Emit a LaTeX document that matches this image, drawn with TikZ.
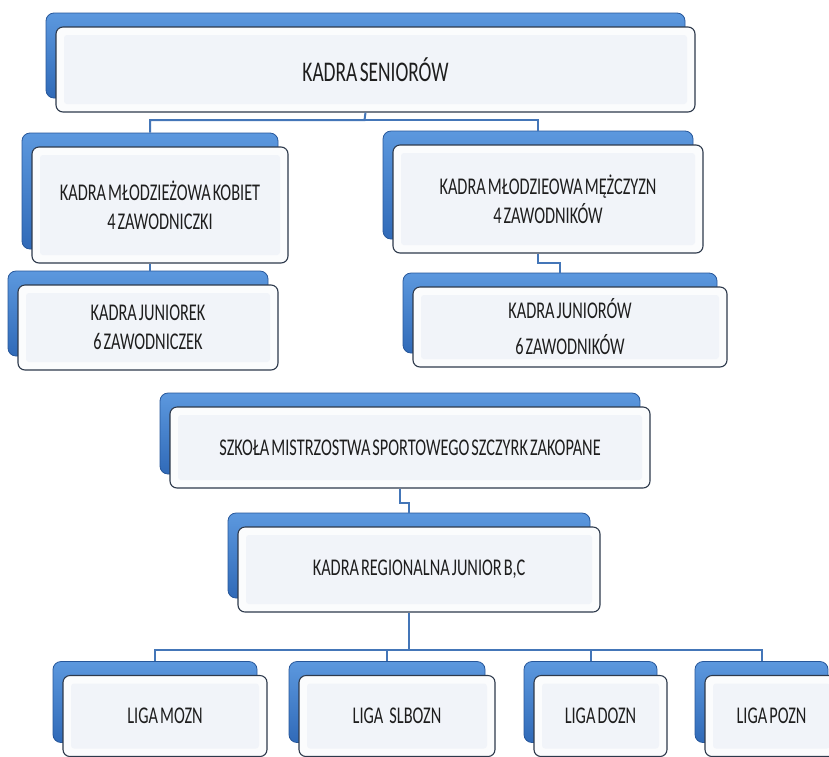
\documentclass[tikz,border=0pt]{standalone}
\usepackage{fontspec}
\setmainfont{Carlito}[FakeStretch=0.68, WordSpace=0.55]
\definecolor{blueA}{HTML}{5C98DE}
\definecolor{blueB}{HTML}{306AB8}
\definecolor{blueEdge}{HTML}{27579A}
\definecolor{frontEdge}{HTML}{2E3A4C}
\definecolor{frontFill}{HTML}{FBFCFD}
\definecolor{innerFill}{HTML}{F1F4F9}
\definecolor{linkBlue}{HTML}{4476B8}
\definecolor{txt}{HTML}{1E1E1E}
\tikzset{
  backbox/.style={draw=blueEdge, line width=0.8pt, rounded corners=8pt,
    top color=blueA, bottom color=blueB, inner sep=0pt},
  frontbox/.style={draw=frontEdge, line width=1.1pt, rounded corners=7pt,
    fill=frontFill, inner sep=0pt, align=center, text=txt,
    font=\fontsize{24}{29}\selectfont,
    path picture={\fill[innerFill, rounded corners=3pt]
      ([shift={(8pt,-8pt)}]path picture bounding box.north west) rectangle
      ([shift={(-8pt,8pt)}]path picture bounding box.south east);}},
  link/.style={draw=linkBlue, line width=2pt}
}
\newcommand\orgbox[7]{%
  \node[backbox, minimum width=#4pt, minimum height=#5pt] (#1b) at (#2-10,#3-14) {};
  \node[frontbox, minimum width=#4pt, minimum height=#5pt, #7] (#1) at (#2,#3) {#6};
}
\begin{document}
\begin{tikzpicture}[x=1pt, y=-1pt]
\useasboundingbox (0,0) rectangle (829,756);
\clip (0,0) rectangle (829,756);
\fill[white] (0,0) rectangle (829,756);
\coordinate (tj) at (364.5,120);
% boxes
\orgbox{top}{375.5}{69.5}{639}{85}{KADRA SENIORÓW}{font=\fontsize{28.5}{30}\selectfont}
\orgbox{kob}{160}{205}{256}{116}{KADRA MŁODZIEŻOWA KOBIET\\4 ZAWODNICZKI}{}
\orgbox{jk}{148}{327.5}{260}{85}{KADRA JUNIOREK\\6 ZAWODNICZEK}{}
\orgbox{men}{548}{199}{310}{108}{KADRA MŁODZIEOWA MĘŻCZYZN\\4 ZAWODNIKÓW}{}
\orgbox{jm}{570}{327}{314}{80}{KADRA JUNIORÓW\\6 ZAWODNIKÓW}{font=\fontsize{24}{36}\selectfont}
\orgbox{szk}{410}{447.5}{480}{81}{SZKOŁA MISTRZOSTWA SPORTOWEGO SZCZYRK ZAKOPANE}{}
\orgbox{reg}{419}{569.5}{362}{85}{KADRA REGIONALNA JUNIOR B,C}{}
\orgbox{mozn}{165}{716}{204}{81}{LIGA MOZN}{}
\orgbox{slb}{397}{716}{196}{81}{LIGA \ \ SLBOZN}{}
\orgbox{dozn}{600.5}{716}{133}{81}{LIGA DOZN}{}
\orgbox{pozn}{771.5}{716}{133}{81}{LIGA POZN}{}
% connectors between boxes
\draw[link] (top.south -| topb.center) -- (tj) -| (kobb.north);
\draw[link] (tj) -| (menb.north);
\draw[link] (kob.south -| kobb.center) -- (kobb.center |- jkb.north);
\draw[link] (men.south -| menb.center) -- ++(0,9) -| (jmb.north);
\draw[link] (szk.south -| szkb.center) -- ++(0,14) -| (regb.north);
\draw[link] (reg.south -| regb.center) -- ++(0,37) coordinate (lj);
\draw[link] (lj) -| (moznb.north);
\draw[link] (lj) -| (slbb.north);
\draw[link] (lj) -| (doznb.north);
\draw[link] (lj) -| (poznb.north);
\end{tikzpicture}
\end{document}
